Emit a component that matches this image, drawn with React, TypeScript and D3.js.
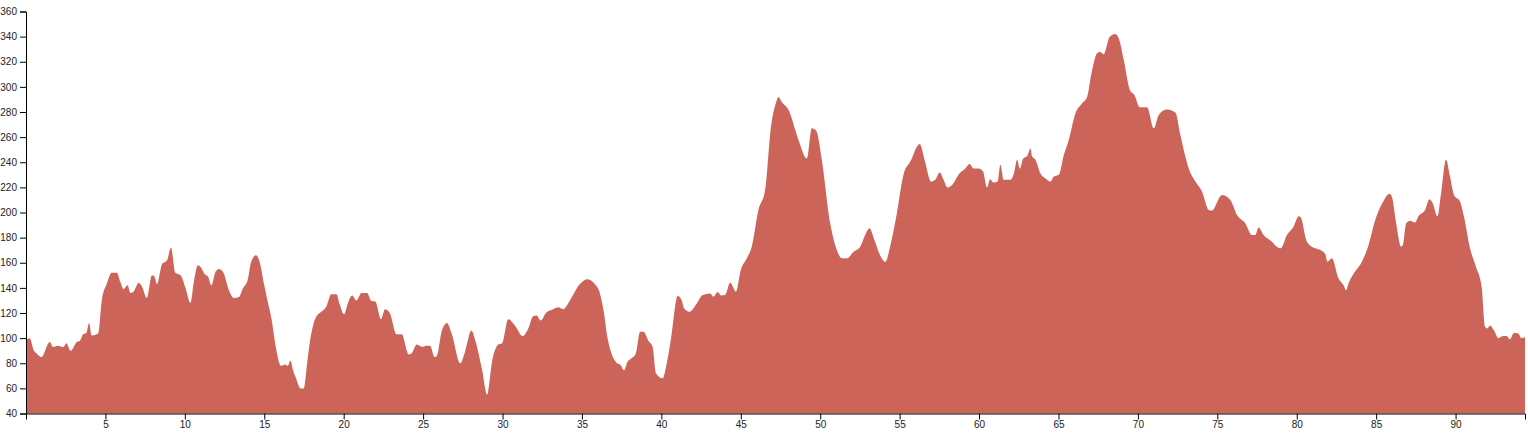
import React, { useEffect, useRef } from "react";
import * as d3 from "d3";

const distanceKm: number[] = [
  0, 0.23, 0.5, 0.65, 0.97, 1.5, 1.7, 2.0, 2.35, 2.55, 2.8, 3.2, 3.4, 3.6, 3.8, 3.97, 4.13, 4.45, 4.55, 4.77,
  5.08, 5.4, 5.72, 5.93, 6.14, 6.4, 6.56, 6.77, 7.09, 7.3, 7.6, 7.93, 8.08, 8.25, 8.57, 8.88, 9.13, 9.4, 9.73,
  10.04, 10.36, 10.57, 10.82, 11.03, 11.24, 11.46, 11.67, 11.94, 12.15, 12.43, 12.78, 13.1, 13.42, 13.63, 13.95,
  14.16, 14.47, 14.68, 15.0, 15.2, 15.46, 15.74, 16.05, 16.3, 16.48, 16.65, 16.8, 17.0, 17.28, 17.49, 17.7, 17.85,
  18.27, 18.59, 18.9, 19.22, 19.54, 19.75, 20.02, 20.27, 20.53, 20.8, 21.12, 21.48, 21.71, 22.0, 22.35, 22.6, 22.9,
  23.33, 23.65, 24.1, 24.28, 24.6, 24.96, 25.17, 25.44, 25.72, 25.87, 26.18, 26.5, 26.81, 27.34, 27.66, 28.04,
  28.29, 28.71, 29.03, 29.35, 29.73, 29.98, 30.36, 30.78, 31.26, 31.62, 31.93, 32.14, 32.4, 32.73, 33.19, 33.5,
  33.82, 34.24, 34.87, 35.34, 35.76, 36.13, 36.39, 36.6, 36.87, 37.18, 37.44, 37.65, 37.86, 38.13, 38.4, 38.66,
  38.87, 39.18, 39.45, 39.66, 40.08, 40.34, 40.59, 41.03, 41.28, 41.43, 41.76, 42.23, 42.6, 43.07, 43.28, 43.55,
  43.74, 44.01, 44.33, 44.7, 45.0, 45.38, 45.69, 46.11, 46.53, 46.89, 47.23, 47.37, 47.58, 48.0, 48.63, 49.16,
  49.47, 49.75, 50.1, 50.63, 51.05, 51.37, 51.68, 52.1, 52.52, 52.83, 53.1, 53.4, 53.77, 54.1, 54.4, 54.82, 55.24,
  55.67, 56.26, 56.6, 56.97, 57.24, 57.52, 57.77, 58.0, 58.36, 58.7, 59.13, 59.4, 59.66, 59.97, 60.25, 60.5, 60.7,
  60.9, 61.18, 61.34, 61.55, 61.98, 62.19, 62.4, 62.57, 62.78, 63.03, 63.24, 63.34, 63.55, 63.87, 64.18, 64.5,
  64.71, 65.02, 65.34, 65.65, 66.07, 66.49, 66.8, 67.08, 67.43, 67.6, 67.85, 68.23, 68.58, 68.86, 69.11, 69.49,
  69.78, 70.12, 70.58, 71.0, 71.31, 71.83, 72.36, 72.67, 73.2, 73.62, 74.04, 74.46, 74.66, 75.29, 75.82, 76.24,
  76.76, 77.18, 77.39, 77.6, 77.91, 78.44, 78.75, 79.0, 79.38, 79.8, 80.12, 80.26, 80.6, 80.95, 81.37, 81.79,
  81.94, 82.21, 82.63, 82.95, 83.11, 83.26, 83.57, 84.1, 84.52, 84.94, 85.36, 85.84, 85.99, 86.26, 86.56, 86.68,
  86.89, 87.14, 87.45, 87.66, 88.08, 88.36, 88.57, 88.86, 89.07, 89.4, 89.65, 89.9, 90.28, 90.53, 90.91, 91.28,
  91.64, 91.85, 92.0, 92.16, 92.42, 92.69, 93.0, 93.21, 93.42, 93.67, 93.94, 94.15, 94.37,
];

const elevationM: number[] = [
  99, 100, 90, 88, 85, 97, 93, 94, 93, 96, 90, 97, 98, 103, 104, 112, 102, 103, 104, 130,
  143, 152, 152, 145, 139, 142, 136, 137, 144, 141, 132, 150, 149, 143, 159, 162, 172, 152, 150,
  140, 128, 145, 158, 156, 151, 149, 142, 153, 155, 152, 138, 132, 133, 139, 146,
  160, 166, 162, 142, 130, 115, 92, 78, 79, 78, 82, 75, 68, 60, 60, 80, 95,
  117, 121, 125, 135, 135, 127, 119, 128, 134, 130, 136, 136, 130, 129, 115, 123, 120,
  103, 103, 87, 88, 95, 93, 94, 94, 85, 86, 106, 112, 103, 80, 90, 106,
  98, 75, 55, 82, 95, 96, 115, 110, 101.6, 107.7, 117.5, 118, 114, 120, 123, 124.5,
  123, 130, 143, 146.8, 143.6, 135.6, 119.7, 101, 87.3, 80.4, 78.5, 74.5, 81, 84, 88, 105,
  105, 98, 93, 72, 68, 80, 98.4, 133.5, 130, 123.7, 121, 127.6, 134.3, 135.6, 133, 136.7,
  134, 134.3, 144, 137, 154, 163.5, 172.8, 202, 218, 267, 288, 292, 288, 281.7, 257.8, 243,
  267, 265, 242, 191.4, 170, 163.5, 163.5, 168.8, 172.8, 182, 187.4, 178.6, 166, 160.8, 172.8, 199, 230,
  240.5, 254.6, 240.5, 224.6, 226, 231.8, 226, 220, 222.7, 230, 235, 238.7, 235, 235, 232.6, 220, 226.5,
  223.8, 224.6, 238, 226, 226, 231, 242, 235, 243, 245, 251, 244.5, 242, 231, 227, 224.6,
  228.6, 230, 246, 257.8, 279, 287, 292, 311, 326.8, 328, 326, 340, 342, 336, 321.5, 297.6,
  293.6, 283.8, 283.8, 267, 277.7, 282, 279.6, 261.8, 235, 224.6, 216.6, 202, 201.5, 214, 210, 198,
  191.4, 182, 182, 188, 182, 176.8, 172.8, 171.5, 182, 188.7, 197, 196, 178, 172.8, 170.7, 167,
  160.8, 163.5, 147.6, 142, 138, 143.6, 151, 160.8, 174, 194, 206.8, 215, 212.6, 191.4, 173, 174,
  191.4, 193.5, 192, 197, 202, 210.5, 207, 197, 214, 242, 228.6, 214, 208.7, 196.7, 171.5, 156.9,
  141, 109, 107.7, 110, 106, 100, 101.6, 101.6, 99, 104, 103.7, 100, 100.6,
];

const yTickValues: number[] = [40, 60, 80, 100, 120, 140, 160, 180, 200, 220, 240, 260, 280, 300, 320, 340, 360];
const xTickValues: number[] = [5, 10, 15, 20, 25, 30, 35, 40, 45, 50, 55, 60, 65, 70, 75, 80, 85, 90];

const WIDTH = 1528;
const HEIGHT = 434;
const margin = { top: 11.5, right: 3, bottom: 20.5, left: 26 };

export default function App() {
  const ref = useRef<SVGSVGElement | null>(null);

  useEffect(() => {
    const svg = d3.select(ref.current);
    svg.selectAll("*").remove();
    const innerW = WIDTH - margin.left - margin.right;
    const innerH = HEIGHT - margin.top - margin.bottom;

    const x = d3.scaleLinear().domain([0, d3.max(distanceKm) as number]).range([0, innerW]);
    const y = d3.scaleLinear().domain([40, 360]).range([innerH, 0]);

    const g = svg.append("g").attr("transform", `translate(${margin.left},${margin.top})`);

    const data = distanceKm.map((d, i) => ({ d, e: elevationM[i] }));
    const area = d3
      .area<{ d: number; e: number }>()
      .curve(d3.curveMonotoneX)
      .x((p) => x(p.d))
      .y0(innerH)
      .y1((p) => y(p.e));

    g.append("path").datum(data).attr("d", area).attr("fill", "#cd645a");

    const xAxis = g
      .append("g")
      .attr("transform", `translate(0,${innerH})`)
      .call(d3.axisBottom(x).tickValues(xTickValues).tickFormat(d3.format("d")));
    const yAxis = g.append("g").call(d3.axisLeft(y).tickValues(yTickValues).tickFormat(d3.format("d")));

    [xAxis, yAxis].forEach((a) => {
      a.attr("font-family", "'Liberation Sans', Arial, sans-serif").attr("font-size", 10);
      a.selectAll("text").attr("fill", "#222");
    });
    xAxis.selectAll("text").attr("dy", "0.55em");
  }, []);

  return (
    <svg
      ref={ref}
      width={WIDTH}
      height={HEIGHT}
      style={{ position: "absolute", left: 0, top: 0, background: "#fff" }}
    />
  );
}
